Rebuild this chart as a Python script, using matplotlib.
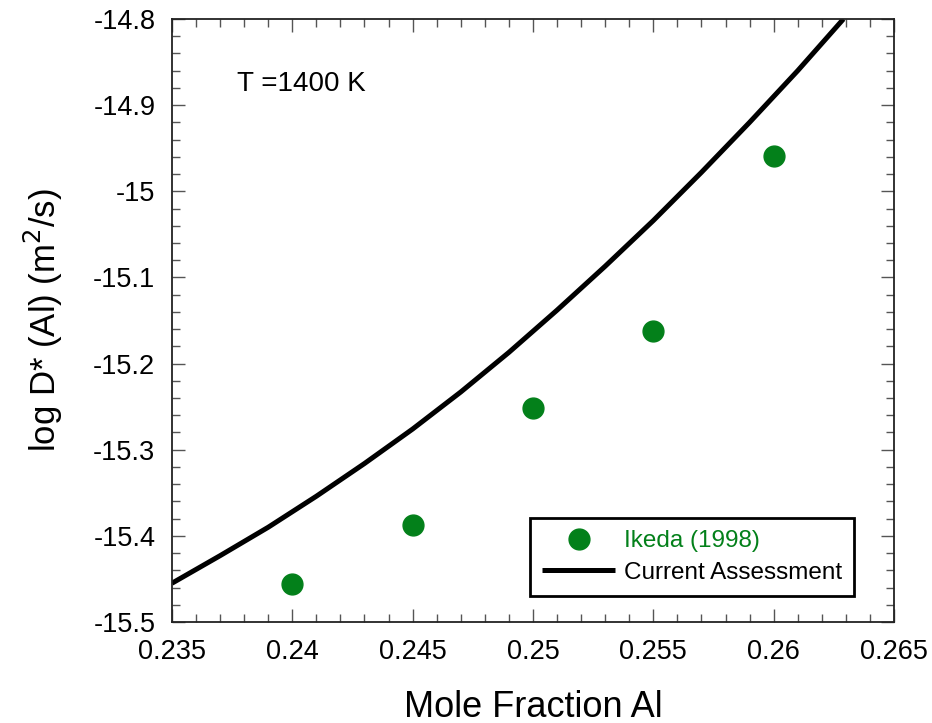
import matplotlib
matplotlib.use('Agg')
import matplotlib.pyplot as plt
from matplotlib.ticker import MultipleLocator, FuncFormatter

plt.rcParams['font.family'] = ['Liberation Sans', 'DejaVu Sans']
plt.rcParams['axes.unicode_minus'] = False

# 实验数据 Ikeda (1998)
ikeda_x = [0.240, 0.245, 0.250, 0.255, 0.260]
ikeda_y = [-15.456, -15.387, -15.252, -15.162, -14.959]

# 评估曲线 Current Assessment
calc_x = [0.2350, 0.2370, 0.2390, 0.2410, 0.2430, 0.2450, 0.2470, 0.2490,
          0.2510, 0.2530, 0.2550, 0.2570, 0.2590, 0.2610, 0.2629]
calc_y = [-15.455, -15.423, -15.390, -15.354, -15.316, -15.276, -15.233, -15.187,
          -15.138, -15.087, -15.034, -14.978, -14.920, -14.860, -14.800]

fig = plt.figure(figsize=(9.32, 7.23), dpi=100)
ax = fig.add_axes([0.1845, 0.1397, 0.7747, 0.834])

ax.plot(calc_x, calc_y, color='black', linewidth=3.6, solid_joinstyle='round',
        solid_capstyle='butt', label='Current Assessment', zorder=2)
ax.plot(ikeda_x, ikeda_y, linestyle='none', marker='o', markersize=15,
        color='#03801a', label='Ikeda (1998)', zorder=3)

ax.set_xlim(0.235, 0.265)
ax.set_ylim(-15.5, -14.8)
ax.xaxis.set_major_locator(MultipleLocator(0.005))
ax.xaxis.set_minor_locator(MultipleLocator(0.001))
ax.yaxis.set_major_locator(MultipleLocator(0.1))
ax.yaxis.set_minor_locator(MultipleLocator(0.02))
fmt = FuncFormatter(lambda v, p: '%g' % round(v, 4))
ax.xaxis.set_major_formatter(fmt)
ax.yaxis.set_major_formatter(fmt)

ax.tick_params(which='both', direction='in', top=True, right=True,
               color='#555555', width=1.0, labelsize=19.5)
ax.tick_params(which='major', length=9.5)
ax.tick_params(which='minor', length=5.5)
ax.tick_params(axis='x', which='major', pad=12)
ax.tick_params(axis='y', which='major', pad=12)
for s in ax.spines.values():
    s.set_linewidth(1.3)
    s.set_color('#222222')

ax.set_xlabel('Mole Fraction Al', fontsize=26, labelpad=18)
ax.set_ylabel('log D* (Al) (m$^2$/s)', fontsize=25, labelpad=20)

ax.text(0.2377, -14.8835, 'T =1400 K', fontsize=20)

leg = ax.legend(handles=ax.get_lines()[::-1], loc='lower right',
                bbox_to_anchor=(0.9446, 0.043), fontsize=17.5, frameon=True,
                fancybox=False, framealpha=1, edgecolor='black',
                handlelength=3.0, handletextpad=0.35, borderpad=0.5,
                labelspacing=0.4, borderaxespad=0)
leg.get_frame().set_linewidth(2)
leg.get_texts()[0].set_color('#03801a')

fig.savefig('out.png', dpi=100)
